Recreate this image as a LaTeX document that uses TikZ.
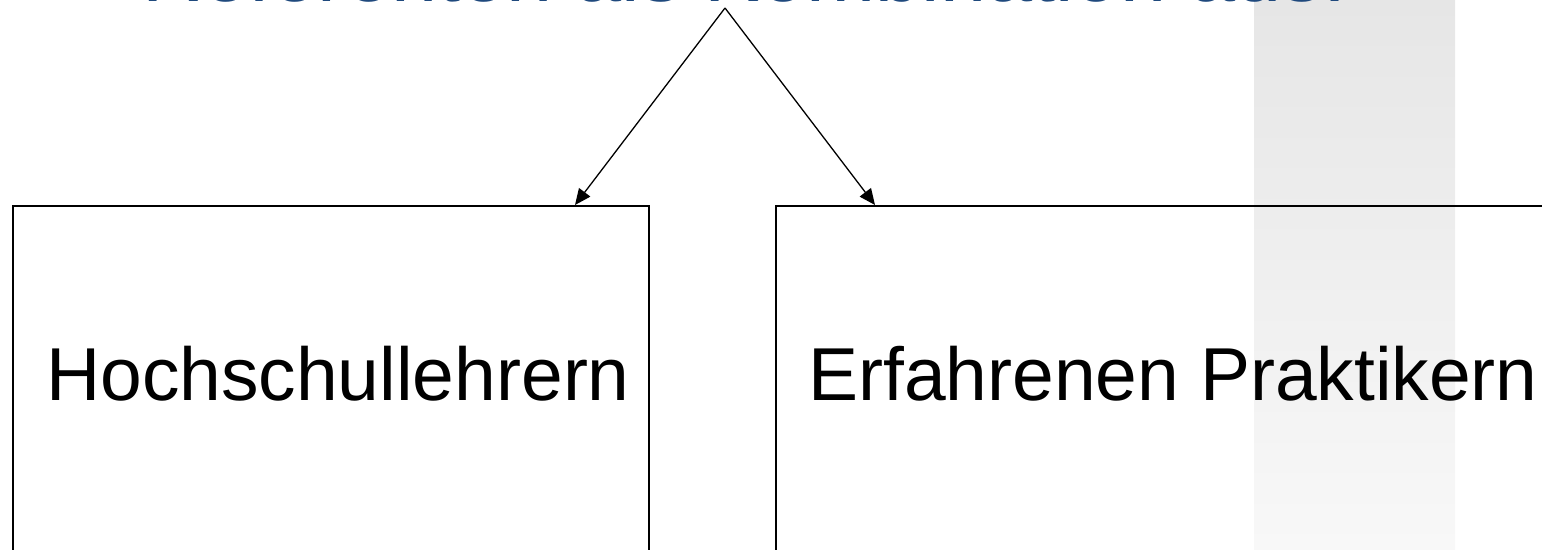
\documentclass[tikz,border=0pt]{standalone}
\usepackage{fontspec}
\setmainfont{Liberation Sans}
\usetikzlibrary{arrows.meta,calc}
\definecolor{titleblue}{RGB}{31,73,125}
\definecolor{bandtop}{RGB}{230,230,230}
\definecolor{bandbot}{RGB}{248,248,248}
\tikzset{
  box/.style={draw=black, line width=1.6pt, rectangle, anchor=north west, inner sep=0pt},
  boxtext/.style={anchor=base, inner sep=0pt, font=\fontsize{75}{80}\selectfont},
  arr/.style={draw=black, line width=1.3pt, -{Triangle[length=16pt,width=14pt]}},
}
\begin{document}
\begin{tikzpicture}[x=1pt,y=-1pt]
\useasboundingbox (0,0) rectangle (1542,549);
\clip (0,0) rectangle (1542,549);
% background band
\shade[top color=bandtop, bottom color=bandbot] (1254,0) rectangle (1455,549);
% title (cut off at top)
\node[anchor=base west, inner sep=0pt, text=titleblue, font=\fontsize{83}{88}\selectfont] (title) at (142,1.5) {Referenten als Kombination aus:};
% boxes
\node[box, minimum width=636pt, minimum height=420pt] (hbox) at (12,205) {};
\node[box, minimum width=820pt, minimum height=420pt] (pbox) at (775,205) {};
\node[boxtext] (htext) at (338,400) {Hochschullehrern};
\node[boxtext] (ptext) at (1173,400) {Erfahrenen Praktikern};
% connectors
\coordinate (apex) at (725,8);
\draw[arr] (apex) -- ([xshift=563pt]hbox.north west);
\draw[arr] (apex) -- ([xshift=100pt]pbox.north west);
\end{tikzpicture}
\end{document}
